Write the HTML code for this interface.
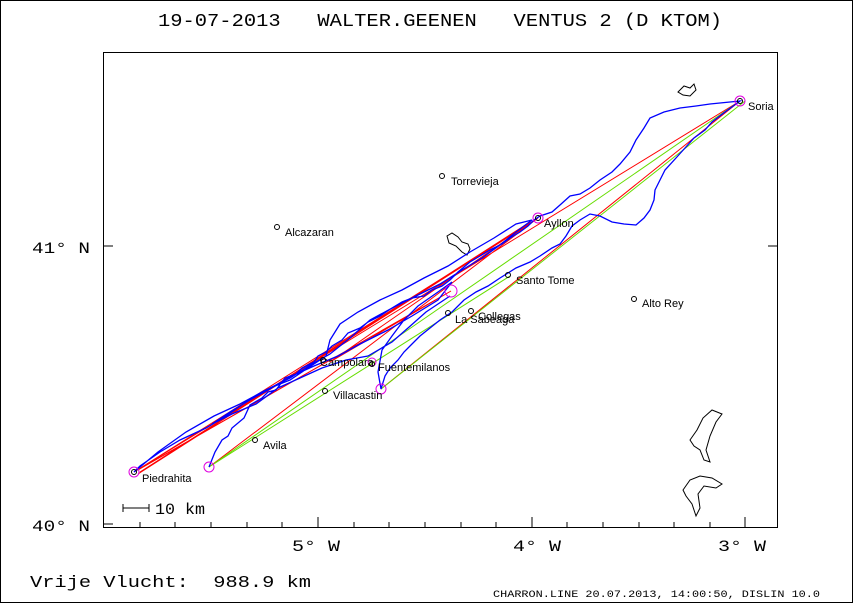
<!DOCTYPE html>
<html><head><style>
html,body{margin:0;padding:0;background:#fff;}
svg{display:block;font-family:"Liberation Mono",monospace;}
text{white-space:pre;}
</style></head><body>
<svg width="853" height="603" viewBox="0 0 853 603" xmlns="http://www.w3.org/2000/svg" xml:space="preserve">
<rect x="0.5" y="0.5" width="852" height="602" fill="#fff" stroke="#000"/>
<text x="158" y="26" font-size="18" textLength="564" lengthAdjust="spacingAndGlyphs" fill="#000">19-07-2013   WALTER.GEENEN   VENTUS 2 (D KTOM)</text>
<rect x="103.5" y="52.5" width="674" height="475" fill="none" stroke="#000"/>
<g stroke="#000" stroke-width="1">
<line x1="103" y1="246" x2="113" y2="246"/><line x1="768" y1="246" x2="778" y2="246"/>
<line x1="103" y1="524" x2="113" y2="524"/>
<line x1="318" y1="527" x2="318" y2="517"/><line x1="532" y1="527" x2="532" y2="517"/><line x1="745" y1="527" x2="745" y2="517"/>
<line x1="140" y1="527" x2="140" y2="522"/><line x1="175" y1="527" x2="175" y2="522"/><line x1="211" y1="527" x2="211" y2="522"/><line x1="247" y1="527" x2="247" y2="522"/><line x1="282" y1="527" x2="282" y2="522"/>
<line x1="354" y1="527" x2="354" y2="522"/><line x1="389" y1="527" x2="389" y2="522"/><line x1="425" y1="527" x2="425" y2="522"/><line x1="461" y1="527" x2="461" y2="522"/><line x1="496" y1="527" x2="496" y2="522"/>
<line x1="567" y1="527" x2="567" y2="522"/><line x1="603" y1="527" x2="603" y2="522"/><line x1="639" y1="527" x2="639" y2="522"/><line x1="674" y1="527" x2="674" y2="522"/><line x1="710" y1="527" x2="710" y2="522"/>
<line x1="123" y1="508" x2="149" y2="508"/><line x1="123" y1="504" x2="123" y2="512"/><line x1="149" y1="504" x2="149" y2="512"/>
</g>
<g font-size="16" fill="#000">
<text x="32" y="253" textLength="58" lengthAdjust="spacingAndGlyphs">41° N</text><text x="32" y="531" textLength="58" lengthAdjust="spacingAndGlyphs">40° N</text>
<text x="292" y="551" textLength="48" lengthAdjust="spacingAndGlyphs">5° W</text><text x="513" y="551" textLength="48" lengthAdjust="spacingAndGlyphs">4° W</text><text x="718" y="551" textLength="48" lengthAdjust="spacingAndGlyphs">3° W</text>
<text x="155" y="514" textLength="50" lengthAdjust="spacingAndGlyphs">10 km</text>
<text x="30" y="587" font-size="17" textLength="281" lengthAdjust="spacingAndGlyphs">Vrije Vlucht:  988.9 km</text>
</g>
<text x="493" y="597" font-size="10" textLength="327" lengthAdjust="spacingAndGlyphs" fill="#000">CHARRON.LINE 20.07.2013, 14:00:50, DISLIN 10.0</text>
<g fill="none" stroke="#000" stroke-width="1">
<path d="M447,236 L452,233 L458,237 L462,242 L468,244 L470,249 L467,255 L462,252 L456,246 L449,243 Z"/>
<path d="M678,92 L684,86 L690,88 L694,84 L696,90 L690,96 L683,95 Z"/>
<path d="M690,440 L697,430 L703,418 L712,410 L722,414 L716,422 L710,436 L706,450 L710,462 L704,460 L700,450 L694,446 Z"/>
<path d="M683,490 L690,480 L700,476 L712,478 L722,484 L716,488 L704,486 L698,494 L700,508 L696,516 L692,504 L686,496 Z"/>
</g>
<g fill="none" stroke-width="1">
<path d="M134,472 L740,101 M134,472 L538,218 M138,470 L451,291 M134,472 L451,291 M138,474 L538,218 M140,472 L530,222 M381,389 L740,101 M209,467 L538,218 M330,362 L538,218 M330,362 L451,291" stroke="#ff0000"/>
<path d="M209,467 L740,101 M381,389 L745,101 M209,467 L510,276" stroke="#66dd00"/>
</g>
<path fill="none" stroke="#0000ff" stroke-width="1.3" d="M209,467 L215,452 L222,440 L228,436 L232,428 L244,418 L250,405 L262,398 L268,392 L276,390 L285,378 L296,374 L302,368 L314,362 L318,356 L326,352 L332,346 L342,340 L348,333 L360,328 L368,322 L380,316 L392,308 L402,302 L412,298 L424,296 L432,290 L442,286 L450,280 L458,272 L470,262 L480,256 L490,250 L502,244 L510,238 L520,232 L528,226 L534,220 L540,216 L552,212 L560,205 L570,196 L580,194 L590,188 L600,180 L612,172 L620,164 L630,152 L636,140 L644,128 L650,118 L664,112 L680,108 L696,106 L710,104 L740,101 L725,112 L712,122 L705,130 L694,138 L685,148 L676,158 L665,170 L660,180 L655,190 L654,200 L650,210 L644,218 L636,225 L624,224 L612,222 L600,216 L590,214 L580,220 L572,226 L566,236 L560,244 L552,248 L540,256 L530,262 L516,268 L500,278 L488,286 L476,292 L464,300 L452,312 L440,320 L430,328 L420,336 L412,344 L404,352 L398,360 L390,368 L385,376 L381,389 L378,372 L382,350 L392,336 L404,320 L418,306 L438,292 L452,282 L438,300 L412,316 L388,330 L360,344 L338,356 L314,366 L292,376 L268,390 L246,402 L226,416 L206,428 L180,440 L160,452 L140,466 L134,472 L158,452 L186,432 L214,416 L240,404 L262,392 L290,378 L312,364 L330,354 L350,338 L370,320 L396,306 L420,294 L440,284 L462,270 L482,258 L500,245 L516,232 L532,220 L516,224 L494,238 L470,252 L448,266 L424,278 L402,290 L380,300 L358,312 L340,324 L330,340 L326,356 L308,368 L290,380 L270,388 L250,400 L230,412 L212,424 L232,414 L256,404 L278,388 L300,378 L322,368 L346,360 L368,356 L392,342 L408,328 L426,312 L450,296"/>
<g fill="none" stroke="#e000e0" stroke-width="1">
<circle cx="134" cy="472" r="5"/><circle cx="209" cy="467" r="5"/><circle cx="740" cy="101" r="5"/><circle cx="538" cy="218" r="5"/><circle cx="451" cy="291" r="6"/><circle cx="381" cy="389" r="5"/><circle cx="372" cy="362" r="4"/>
</g>
<g fill="none" stroke="#000"><circle cx="442" cy="176" r="2.5"/><circle cx="277" cy="227" r="2.5"/><circle cx="538" cy="218" r="2.5"/><circle cx="508" cy="275" r="2.5"/><circle cx="634" cy="299" r="2.5"/><circle cx="448" cy="313" r="2.5"/><circle cx="471" cy="311" r="2.5"/><circle cx="323" cy="360" r="2.5"/><circle cx="372" cy="364" r="2.5"/><circle cx="325" cy="391" r="2.5"/><circle cx="255" cy="440" r="2.5"/><circle cx="134" cy="472" r="2.5"/><circle cx="740" cy="101" r="2.5"/></g>
<g font-family="Liberation Sans,sans-serif" font-size="11" fill="#000">
<text x="451" y="185">Torrevieja</text><text x="285" y="236">Alcazaran</text><text x="544" y="227">Ayllon</text><text x="516" y="284">Santo Tome</text><text x="642" y="307">Alto Rey</text><text x="455" y="323">La Sabeaga</text><text x="478" y="320">Collegas</text><text x="320" y="366">Campolara</text><text x="378" y="371">Fuentemilanos</text><text x="333" y="399">Villacastin</text><text x="263" y="449">Avila</text><text x="142" y="482">Piedrahita</text><text x="748" y="110">Soria</text>
</g>
</svg>
</body></html>
